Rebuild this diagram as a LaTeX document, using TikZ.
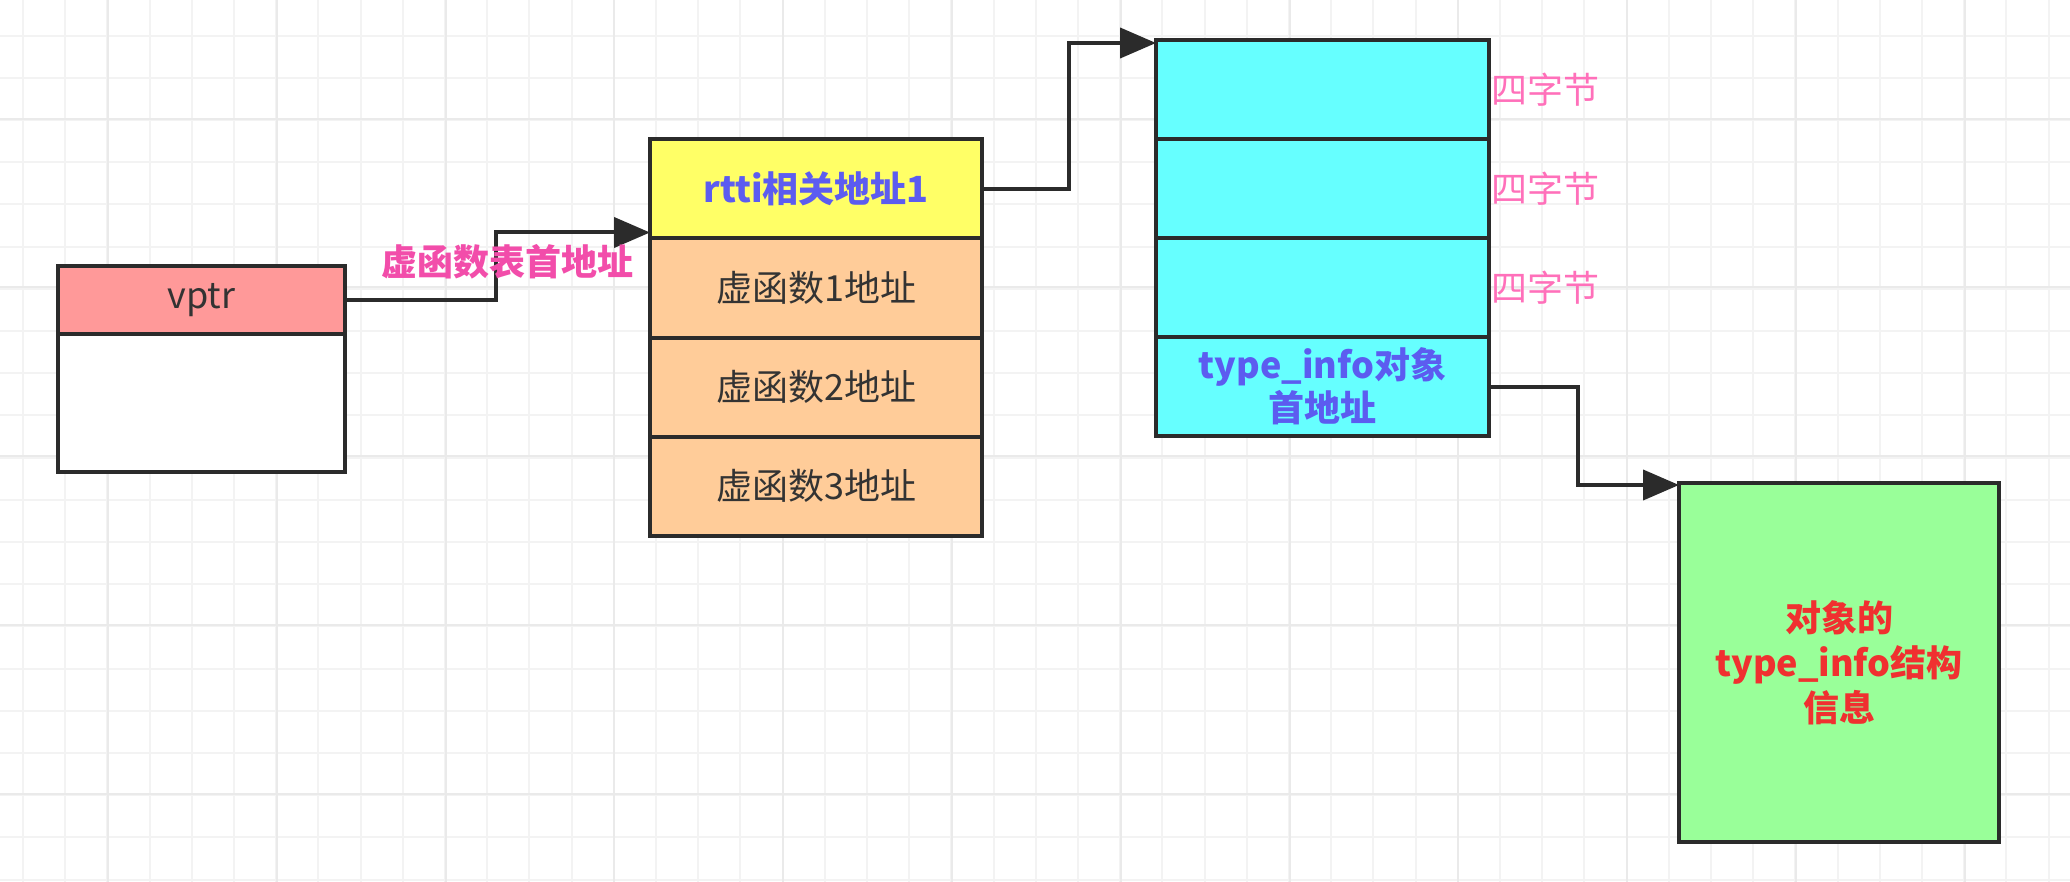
\documentclass[tikz,border=0pt]{standalone}
\usepackage{fontspec}
\newfontfamily\cjk{Noto Sans CJK SC}
\usetikzlibrary{positioning,arrows.meta}

\definecolor{linec}{HTML}{2B2B2B}
\definecolor{gridminor}{HTML}{F3F3F3}
\definecolor{gridmajor}{HTML}{EAEAEA}
\definecolor{vptrpink}{HTML}{FF9999}
\definecolor{rttiyellow}{HTML}{FFFF66}
\definecolor{fnorange}{HTML}{FFCC99}
\definecolor{cellcyan}{HTML}{66FFFF}
\definecolor{infogreen}{HTML}{99FF99}
\definecolor{lblpink}{HTML}{F24DAA}
\definecolor{bytepink}{HTML}{FF70BA}
\definecolor{bluetext}{HTML}{5C5CF0}
\definecolor{redtext}{HTML}{F03030}
\definecolor{greytext}{HTML}{333333}

\tikzset{
  cell/.style={draw=linec, line width=2pt, inner sep=0pt, outer sep=0pt, align=center,
               text=greytext, font=\cjk\fontsize{18}{21.5}\selectfont},
  lbl/.style={inner sep=0pt, font=\cjk\fontsize{18}{21.5}\selectfont},
  link/.style={draw=linec, line width=2pt, -{Triangle[length=18pt,width=15pt]}}
}

\begin{document}
\begin{tikzpicture}[x=0.5pt, y=-0.5pt]
\useasboundingbox (0,0) rectangle (2070,882);
% background grid
\fill[white] (0,0) rectangle (2070,882);
\foreach \x in {23,65.2,...,2070} \draw[gridminor, line width=1pt] (\x,0) -- (\x,882);
\foreach \y in {35.6,77.8,...,882} \draw[gridminor, line width=1pt] (0,\y) -- (2070,\y);
\foreach \x in {108,276.8,...,2070} \draw[gridmajor, line width=1pt] (\x,0) -- (\x,882);
\foreach \y in {118.6,287.4,...,882} \draw[gridmajor, line width=1pt] (0,\y) -- (2070,\y);

% object with vptr
\node[cell, fill=vptrpink, minimum width=143.5pt, minimum height=34pt] (vptr) at (201.5,300) {vptr};
\node[cell, fill=white, minimum width=143.5pt, minimum height=69pt, below=0pt of vptr] (vbody) {};

% virtual function table
\node[cell, fill=rttiyellow, minimum width=166pt, minimum height=49.5pt, text=bluetext, font=\cjk\bfseries\fontsize{18}{21.5}\selectfont] (rtti) at (816,189) {rtti相关地址1};
\node[cell, fill=fnorange, minimum width=166pt, minimum height=49.5pt, below=0pt of rtti] (vf1) {虚函数1地址};
\node[cell, fill=fnorange, minimum width=166pt, minimum height=49.5pt, below=0pt of vf1] (vf2) {虚函数2地址};
\node[cell, fill=fnorange, minimum width=166pt, minimum height=49.5pt, below=0pt of vf2] (vf3) {虚函数3地址};

% rtti block
\node[cell, fill=cellcyan, minimum width=166.5pt, minimum height=49.5pt] (b1) at (1322.5,89.5) {};
\node[cell, fill=cellcyan, minimum width=166.5pt, minimum height=49.5pt, below=0pt of b1] (b2) {};
\node[cell, fill=cellcyan, minimum width=166.5pt, minimum height=49.5pt, below=0pt of b2] (b3) {};
\node[cell, fill=cellcyan, minimum width=166.5pt, minimum height=49.5pt, below=0pt of b3, text=bluetext, font=\cjk\bfseries\fontsize{18}{21.5}\selectfont] (b4) {type\_info对象\\首地址};

\node[lbl, text=bytepink, right=1pt of b1] (byte1) {四字节};
\node[lbl, text=bytepink, right=1pt of b2] (byte2) {四字节};
\node[lbl, text=bytepink, right=1pt of b3] (byte3) {四字节};

% type_info
\node[cell, fill=infogreen, minimum width=160pt, minimum height=179.5pt, text=redtext, font=\cjk\bfseries\fontsize{18}{22.5}\selectfont] (info) at (1839,662.5) {对象的\\type\_info结构\\信息};

\draw[link] (vptr.east) -- ++(151,0) |- ([yshift=3pt]rtti.south west);
\draw[link] (rtti.east) -- ++(87,0) |- ([yshift=-1.5pt]b1.north west);
\draw[link] (b4.east) -- ++(89,0) |- ([yshift=-1pt]info.north west);

\node[lbl, text=lblpink, font=\cjk\bfseries\fontsize{18}{21.5}\selectfont] (vtlabel) at (507,262) {虚函数表首地址};
\end{tikzpicture}
\end{document}
